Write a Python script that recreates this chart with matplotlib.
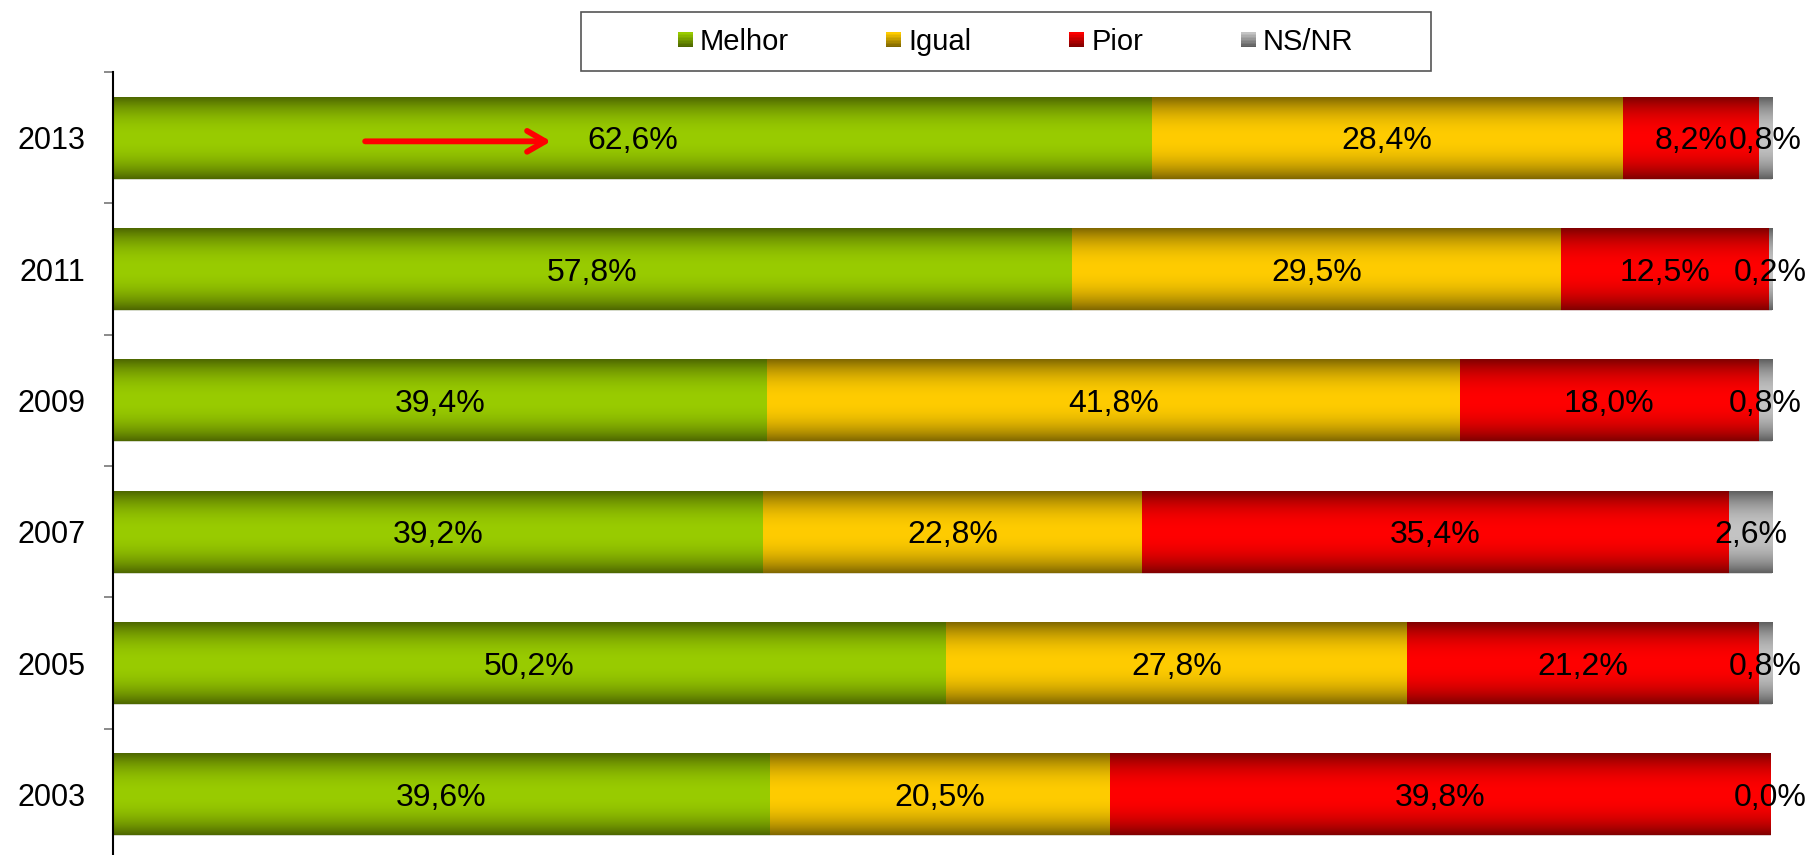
import numpy as np
import matplotlib
matplotlib.use('Agg')
import matplotlib.pyplot as plt
from matplotlib.patches import Rectangle
from matplotlib.legend_handler import HandlerBase
from matplotlib.colors import to_rgb

plt.rcParams['font.family'] = ['Liberation Sans', 'DejaVu Sans']

# dados (%)
anos = ['2003', '2005', '2007', '2009', '2011', '2013']
melhor = [39.6, 50.2, 39.2, 39.4, 57.8, 62.6]
igual = [20.5, 27.8, 22.8, 41.8, 29.5, 28.4]
pior = [39.8, 21.2, 35.4, 18.0, 12.5, 8.2]
nsnr = [0.0, 0.8, 2.6, 0.8, 0.2, 0.8]

series = ['Melhor', 'Igual', 'Pior', 'NS/NR']
valores = [melhor, igual, pior, nsnr]
# (cor central, cor das bordas) para o degradê vertical
cores = [('#99CC00', '#4D6600'), ('#FFCC00', '#7F6600'),
         ('#FF0000', '#7F0000'), ('#C4C4C4', '#5E5E5E')]


def degrade(claro, escuro, n=256):
    t = np.abs(np.linspace(-1, 1, n))
    f = t ** 2.2
    c1, c2 = np.array(to_rgb(claro)), np.array(to_rgb(escuro))
    return (c1[None, :] * (1 - f[:, None]) + c2[None, :] * f[:, None])[:, None, :]


W, H = 1814, 855
fig = plt.figure(figsize=(W / 100, H / 100), dpi=100)
ax = fig.add_axes([113 / W, (855 - 860) / H, 1659 / W, (860 - 72) / H])

y = np.arange(len(anos))
esq = np.zeros(len(anos))
for nome, vals, (claro, escuro) in zip(series, valores, cores):
    bars = ax.barh(y, vals, left=esq, height=0.624, color=claro,
                   edgecolor='#d8d8d8', linewidth=0.6, label=nome, zorder=2)
    img = degrade(claro, escuro)
    for b, v, l in zip(bars, vals, esq):
        yc = b.get_y() + b.get_height() / 2
        ax.text(l + v / 2, yc, f'{v:.1f}%'.replace('.', ','), ha='center',
                va='center_baseline', fontsize=23, color='black', zorder=4)
        if v <= 0:
            continue
        x0, y0 = b.get_x(), b.get_y()
        im = ax.imshow(img, extent=(x0, x0 + b.get_width(), y0 + b.get_height(), y0),
                       aspect='auto', interpolation='bilinear', zorder=2.5)
        im.set_clip_path(b)
    esq = esq + np.array(vals)

ax.set_xlim(0, 100)
ax.set_ylim(-0.5, len(anos) - 0.5)
ax.set_yticks(y)
ax.set_yticklabels(anos, fontsize=22)
ax.set_yticks(np.arange(len(anos) + 1) - 0.5, minor=True)
ax.tick_params(axis='y', which='major', length=0, pad=20)
ax.tick_params(axis='y', which='minor', length=6.5, width=1.2, color='#777777')
ax.set_xticks([])
for s in ['top', 'right', 'bottom']:
    ax.spines[s].set_visible(False)
ax.spines['left'].set_linewidth(1.5)
ax.spines['left'].set_color('black')

# seta em 2013
ax.annotate('', xy=(26.4, 4.972), xytext=(15.2, 4.972),
            arrowprops=dict(arrowstyle='->,head_length=1.3,head_width=0.75',
                            color='red', lw=4.2, shrinkA=0, shrinkB=0),
            zorder=5)


class HandlerDegrade(HandlerBase):
    def create_artists(self, legend, orig_handle, xdescent, ydescent,
                       width, height, fontsize, trans):
        claro, escuro = orig_handle
        lado = 15 * 0.72
        n = 10
        c1, c2 = np.array(to_rgb(claro)), np.array(to_rgb(escuro))
        arts = []
        x0 = width - lado - xdescent
        y0 = (height - lado) / 2 - ydescent
        for k in range(n):
            f = k / (n - 1)
            c = c1 * f + c2 * (1 - f)
            arts.append(Rectangle((x0, y0 + k * lado / n), lado, lado / n + 0.1,
                                  facecolor=c, edgecolor='none', transform=trans))
        return arts


fig.patches.append(Rectangle((581 / W, 1 - 71 / H), 850 / W, 59 / H,
                             transform=fig.transFigure, facecolor='white',
                             edgecolor='#555555', linewidth=1.2))
fig.legend(cores, series, handler_map={tuple: HandlerDegrade()},
           loc='center', bbox_to_anchor=(1015 / W, 1 - 42 / H), ncol=4,
           frameon=False, fontsize=21, handlelength=0.55, handletextpad=0.25,
           columnspacing=3.3, borderpad=0)

fig.savefig('out.png', dpi=100)
